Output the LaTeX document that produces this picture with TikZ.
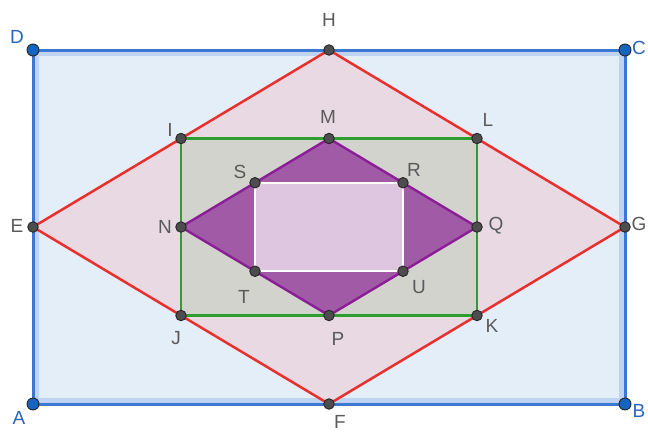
\documentclass[tikz,border=0pt]{standalone}
\usepackage{fontspec}
\setmainfont{Liberation Sans}
\definecolor{bstroke}{RGB}{58,120,210}
\definecolor{bhalo}{RGB}{190,212,242}
\definecolor{bfill}{RGB}{228,238,249}
\definecolor{rstroke}{RGB}{232,48,44}
\definecolor{rfill}{RGB}{233,217,227}
\definecolor{gstroke}{RGB}{46,158,46}
\definecolor{gfill}{RGB}{211,211,205}
\definecolor{pstroke}{RGB}{139,30,150}
\definecolor{pfill}{RGB}{160,90,166}
\definecolor{ifill}{RGB}{222,198,224}
\definecolor{ptgray}{RGB}{77,77,77}
\definecolor{labgray}{RGB}{90,90,90}
\definecolor{ptblue}{RGB}{21,101,192}
\definecolor{labblue}{RGB}{40,100,190}
\begin{document}
\begin{tikzpicture}[x=1pt,y=-1pt,
  gpt/.style={circle,fill=ptgray,draw=black!85,line width=0.9pt,inner sep=0pt,minimum size=10.5pt},
  bpt/.style={circle,fill=ptblue,draw=black!85,line width=0.9pt,inner sep=0pt,minimum size=12pt},
  glab/.style={text=labgray,font=\fontsize{19}{19}\selectfont,inner sep=0pt},
  blab/.style={text=labblue,font=\fontsize{19}{19}\selectfont,inner sep=0pt}]
\useasboundingbox (0,0) rectangle (648,432);
\coordinate (A) at (33,404);
\coordinate (B) at (625,404);
\coordinate (C) at (625,50);
\coordinate (D) at (33,50);
\coordinate (E) at (33,227);
\coordinate (F) at (329,404);
\coordinate (G) at (625,227);
\coordinate (H) at (329,50);
\coordinate (I) at (181,138.5);
\coordinate (L) at (477,138.5);
\coordinate (J) at (181,315.5);
\coordinate (K) at (477,315.5);
\coordinate (M) at (329,138.5);
\coordinate (P) at (329,315.5);
\coordinate (N) at (181,227);
\coordinate (Q) at (477,227);
\coordinate (S) at (255,182.75);
\coordinate (R) at (403,182.75);
\coordinate (T) at (255,271.25);
\coordinate (U) at (403,271.25);
% fills
\fill[bfill] (A) -- (B) -- (C) -- (D) -- cycle;
\draw[bhalo,line width=4.5pt] (36.75,53.75) rectangle (621.25,400.25);
\fill[rfill] (E) -- (F) -- (G) -- (H) -- cycle;
\fill[gfill] (I) -- (L) -- (K) -- (J) -- cycle;
\fill[pfill] (M) -- (Q) -- (P) -- (N) -- cycle;
\fill[ifill] (S) -- (R) -- (U) -- (T) -- cycle;
% strokes
\draw[bstroke,line width=3pt,line join=round] (A) -- (B) -- (C) -- (D) -- cycle;
\draw[rstroke,line width=2.5pt,line join=round] (E) -- (F) -- (G) -- (H) -- cycle;
\draw[gstroke,line width=2.8pt] (I) -- (L) -- (K) -- (J) -- cycle;
\draw[pstroke,line width=2.4pt,line join=round] (M) -- (Q) -- (P) -- (N) -- cycle;
\draw[white,line width=2.2pt] (S) -- (R) -- (U) -- (T) -- cycle;
% points
\node[bpt] (pA) at (A) {};
\node[bpt] (pB) at (B) {};
\node[bpt] (pC) at (C) {};
\node[bpt] (pD) at (D) {};
\foreach \p in {E,F,G,H,I,L,J,K,M,P,N,Q,S,R,T,U}
  \node[gpt] (p\p) at (\p) {};
% labels
\node[blab] (lA) at (19,418) {A};
\node[blab] (lB) at (639,411) {B};
\node[blab] (lC) at (639,48) {C};
\node[blab] (lD) at (17,37) {D};
\node[glab] (lE) at (17,226) {E};
\node[glab] (lF) at (340,422) {F};
\node[glab] (lG) at (639,224) {G};
\node[glab] (lH) at (329,20) {H};
\node[glab] (lI) at (170,130) {I};
\node[glab] (lL) at (488,120) {L};
\node[glab] (lJ) at (176,338) {J};
\node[glab] (lK) at (492,326) {K};
\node[glab] (lM) at (328,117) {M};
\node[glab] (lP) at (338,339) {P};
\node[glab] (lN) at (165,227) {N};
\node[glab] (lQ) at (496,226) {Q};
\node[glab] (lS) at (240,172) {S};
\node[glab] (lR) at (414,170) {R};
\node[glab] (lT) at (244,297) {T};
\node[glab] (lU) at (419,287) {U};
\end{tikzpicture}
\end{document}
